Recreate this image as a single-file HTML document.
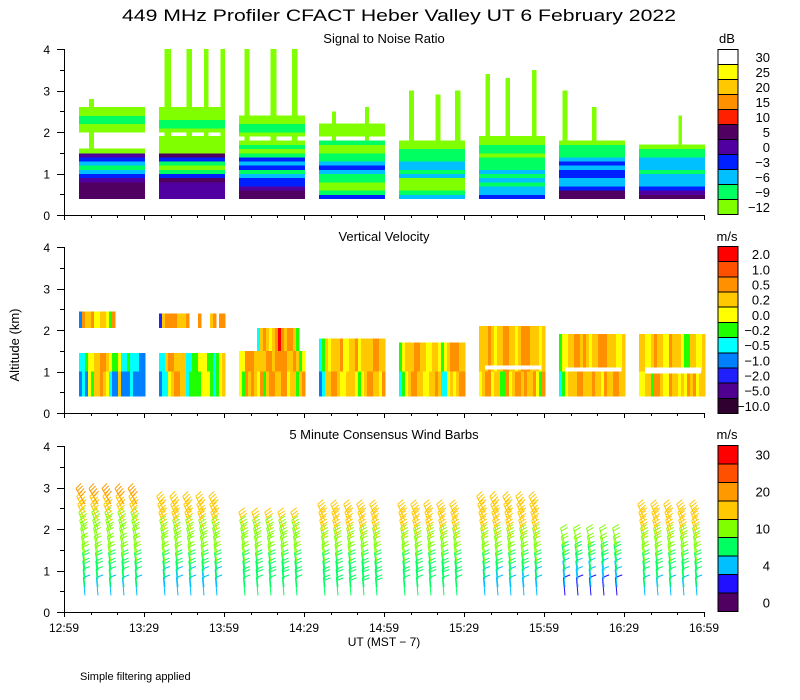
<!DOCTYPE html>
<html><head><meta charset="utf-8"><style>
html,body{margin:0;padding:0;background:#fff;}
svg{display:block;font-family:"Liberation Sans",sans-serif;}
</style></head><body>
<svg id="c" width="800" height="700" viewBox="0 0 800 700" shape-rendering="crispEdges">
<text x="122" y="21" font-size="17" textLength="554" lengthAdjust="spacingAndGlyphs">449 MHz Profiler CFACT Heber Valley UT  6 February 2022</text>
<text x="384" y="43" font-size="13" text-anchor="middle">Signal to Noise Ratio</text>
<text x="384" y="241" font-size="13" text-anchor="middle">Vertical Velocity</text>
<text x="384" y="439" font-size="13" text-anchor="middle">5 Minute Consensus Wind Barbs</text>
<text x="727" y="43" font-size="13" text-anchor="middle">dB</text>
<text x="727" y="241" font-size="13" text-anchor="middle">m/s</text>
<text x="727" y="439" font-size="13" text-anchor="middle">m/s</text>
<text transform="translate(19,345) rotate(-90)" font-size="13" text-anchor="middle">Altitude (km)</text>
<text x="384" y="646" font-size="12" text-anchor="middle">UT  (MST − 7)</text>
<text x="80" y="680" font-size="11">Simple filtering applied</text>
</svg>
<script>
// ---- data ----
const timeLabels = ["12:59","13:29","13:59","14:29","14:59","15:29","15:59","16:29","16:59"];
const altTicks = [0,1,2,3,4];
const snrLabels = ["30","25","20","15","10","5","0","−3","−6","−9","−12"];
const snrColors = ["#ffffff","#ffff00","#ffc800","#ff9000","#ff2000","#500060","#5000a0","#0020ff","#00c0ff","#00ff60","#80ff00"];
const velLabels = ["2.0","1.0","0.5","0.2","0.0","−0.2","−0.5","−1.0","−2.0","−5.0","−10.0"];
const velColors = ["#ff0000","#ff5000","#ff9000","#ffc800","#ffff00","#20ff00","#00ffff","#0080ff","#2020ff","#500090","#300030"];
const windLabels = ["30","","20","","10","","4","","0"];
const windColors = ["#ff0000","#ff5000","#ff9900","#ffc800","#80ff00","#00ff60","#00c0ff","#2010ff","#500060"];
const windBounds = [30,25,20,15,10,7,4,2,0];
// SNR profiles: 0.1 km bins from 0.4 km; a=-12 b=-9 c=-6 d=-3 e=0 f=5 r=10
const snrProfiles = [
 "ffffedcbcdea....aabbaa..............",
 "eeeefdbabdfaaaa.abbaaa..............",
 "ffeddcbdcdbaba.abbaa................",
 "dbaabbcdcbbaab.aaa..................",
 "cbaaacbccbbbaa......................",
 "dccbcbcbbbabbaa.....................",
 "ffdccddcdcbbba......................",
 "fedcccbcccbba......................."
];
// plumes: segment, x fraction, width fraction, top km
const plumeSeg = [0,1,1,1,1,2,2,2,3,3,4,4,4,5,5,5,6,6,7];
const plumeX   = [0.15,0.08,0.42,0.68,0.93,0.08,0.48,0.8,0.2,0.7,0.15,0.55,0.85,0.1,0.4,0.8,0.05,0.5,0.6];
const plumeW   = [0.08,0.1,0.08,0.07,0.07,0.08,0.09,0.09,0.06,0.06,0.08,0.08,0.08,0.07,0.07,0.07,0.08,0.07,0.05];
const plumeTop = [2.8,4.0,4.0,4.0,4.0,4.0,4.0,4.0,2.5,2.6,3.0,2.9,3.0,3.4,3.3,3.5,3.0,2.6,2.4];
// velocity: column class strings (0=2.0 ... 9=-5.0), lower (0.4-1.0) and upper (1.0-top)
const velLow = ["7674533234677377767777","7664322336555544456543","4523234253223322433532","7633223443334543223342","6543223344332366434322","4322433552432232332452","6543332233323342332233","4433522344233434232433"];
const velUp  = ["6654433223455466566677","6632233336655444556543","4422233332232222332354","6534333244332433332233","5433322334433454322233","3332343322334322233343","5443322323433222333443","3344323344233345533443"];
const velTop = [1.45,1.45,1.5,1.8,1.7,2.1,1.9,1.9];
const velGapLo = [0,0,0,0,0,1.05,1.0,0.95];
const velGapHi = [0,0,0,0,0,1.15,1.1,1.1];
const velBlockLo = [2.05,2.05,1.5,0,0,0,0,0];
const velBlockHi = [2.45,2.4,2.05,0,0,0,0,0];
const velBlock = ["723324433452","8322223332...2...32.22","......63234320232235",""," ","","",""];
// wind: speeds at levels 0.4..3.0 km step 0.2 (-1 = missing), direction tilt per level (deg)
const windLevels = [0.4,0.6,0.8,1.0,1.2,1.4,1.6,1.8,2.0,2.2,2.4,2.6,2.8,3.0];
const windSpeed = [
 [6,7,8,9,11,12,12,13,14,17,18,20,-1,-1],
 [5,6,8,9,11,12,13,14,17,18,18,-1,-1,-1],
 [7,8,8,9,11,12,13,14,17,-1,-1,-1,-1,-1],
 [8,8,9,9,11,12,13,16,17,18,-1,-1,-1,-1],
 [7,8,8,9,10,12,13,15,17,18,-1,-1,-1,-1],
 [5,6,8,9,11,12,14,16,17,18,19,-1,-1,-1],
 [3,4,6,8,9,11,12,-1,-1,-1,-1,-1,-1,-1],
 [6,7,8,9,11,12,14,16,17,18,-1,-1,-1,-1]
];
const windTilt = [5,6,7,8,10,12,14,17,20,24,27,30,30,30];

// ---- layout ----
const svg = document.getElementById('c');
const NS = 'http://www.w3.org/2000/svg';
const X0 = 64, X1 = 704;
const panels = [{top:49,bot:215},{top:247,bot:413},{top:446,bot:612}];
const xMin = t => X0 + t * 80 / 30;
const segX = k => X0 + 15 + 80 * k;
const SEGW = 66;
function yK(p, km){ return p.bot - km * (p.bot - p.top) / 4; }
function mk(tag, attrs, parent){ const e = document.createElementNS(NS, tag); for (const k in attrs) e.setAttribute(k, attrs[k]); (parent||svg).appendChild(e); return e; }

const snrMap = {a:10,b:9,c:8,d:7,e:6,f:5,r:4};
// SNR heatmap
const g1 = mk('g', {});


plumeSeg.forEach((s, i) => {
  const p = panels[0];
  const r = mk('rect', {x: segX(s) + plumeX[i]*SEGW, y: yK(p, plumeTop[i]), width: plumeW[i]*SEGW, height: yK(p,1.5) - yK(p,plumeTop[i]), fill: snrColors[10]}, g1);
  
  
});
snrProfiles.forEach((prof, s) => {
  const p = panels[0];
  for (let i = 0; i < prof.length; i++) {
    const ch = prof[i]; if (!(ch in snrMap)) continue;
    const lo = 0.4 + 0.1*i, hi = lo + 0.1;
    const r = mk('rect', {x: segX(s), y: yK(p, hi), width: SEGW, height: yK(p, lo) - yK(p, hi) + 0.5, fill: snrColors[snrMap[ch]]}, g1);
    
    
  }
});
// velocity heatmap
const g2 = mk('g', {});


function velCols(str, s, lo, hi){
  const p = panels[1]; const w = SEGW / 22;
  for (let j = 0; j < str.length; j++) {
    const c = str[j]; if (c < '0' || c > '9') continue;
    const r = mk('rect', {x: segX(s) + j*w, y: yK(p, hi), width: w + 0.3, height: yK(p, lo) - yK(p, hi), fill: velColors[+c]}, g2);
    
    
  }
}
for (let s = 0; s < 8; s++) {
  velCols(velLow[s], s, 0.4, 1.0);
  velCols(velUp[s], s, 1.0, velTop[s]);
  if (velBlockHi[s] > 0) velCols(velBlock[s], s, velBlockLo[s], velBlockHi[s]);
  if (velGapHi[s] > 0) {
    const p = panels[1];
    mk('rect', {x: segX(s)+6, y: yK(p, velGapHi[s]), width: SEGW-10, height: yK(p, velGapLo[s]) - yK(p, velGapHi[s]), fill: '#fff'}, g2);
  }
}
// wind barbs
const g3 = mk('g', {'shape-rendering':'auto'});


function windColor(v){ for (let i = 0; i < windBounds.length; i++) if (v >= windBounds[i]) return windColors[i]; return windColors[8]; }
for (let s = 0; s < 8; s++) {
  for (let j = 0; j < 5; j++) {
    const x = segX(s) + 6 + 13*j;
    windSpeed[s].forEach((v, li) => {
      if (v < 0) return;
      const p = panels[2];
      const y = yK(p, windLevels[li]);
      const a = windTilt[li] * Math.PI / 180;
      const L = 18, ux = -Math.sin(a), uy = -Math.cos(a);
      const tx = x + ux*L, ty = y + uy*L;
      let d = `M${x},${y}L${tx.toFixed(1)},${ty.toFixed(1)}`;
      const n = Math.round(v / 5);
      for (let f = 0; f < n; f++) {
        const bx = tx - ux*f*3, by = ty - uy*f*3;
        d += `M${bx.toFixed(1)},${by.toFixed(1)}l${(Math.cos(a)*7 + ux*2).toFixed(1)},${(Math.sin(a)*-7 + uy*2).toFixed(1)}`;
      }
      const b = mk('path', {d: d, stroke: windColor(v), 'stroke-width': 1, fill: 'none'}, g3);
      
      
    });
  }
}
// axes
panels.forEach((p, pi) => {
  const ax = mk('g', {stroke:'#000', 'stroke-width':1});
  
  
  mk('line', {x1:X0+0.5, y1:p.top, x2:X0+0.5, y2:p.bot+0.5}, ax);
  mk('line', {x1:X0, y1:p.bot+0.5, x2:X1, y2:p.bot+0.5}, ax);
  for (let k = 0; k <= 8; k++) {
    const yy = yK(p, k*0.5);
    mk('line', {x1: k%2 ? 60 : 57, y1: Math.round(yy)+0.5, x2: X0, y2: Math.round(yy)+0.5}, ax);
  }
  for (let m = 0; m <= 24; m++) {
    const xx = Math.round(xMin(m*10)) + 0.5;
    mk('line', {x1: xx, y1: p.bot, x2: xx, y2: p.bot + (m%3 ? 3 : 5)}, ax);
  }
  altTicks.forEach(v => {
    const t = mk('text', {x: 50, y: yK(p, v) + 5, 'font-size': 12, 'text-anchor':'end', stroke:'none'});
    t.textContent = v;
    
    
  });
});
timeLabels.forEach((lab, i) => {
  const t = mk('text', {x: X0 + 80*i, y: 632, 'font-size': 12, 'text-anchor':'middle'});
  t.textContent = lab;
  
  
});
// colorbars
function colorbar(colors, labels, top, bot, name){
  const g = mk('g', {});
  
  
  const h = (bot - top) / colors.length;
  colors.forEach((c, i) => {
    mk('rect', {x: 718, y: top + i*h, width: 20, height: h, fill: c, stroke: '#000', 'stroke-width': 1}, g);
    if (labels[i]) {
      const t = mk('text', {x: 770, y: top + i*h + h/2 + 5, 'font-size': 13, 'text-anchor':'end'}, g);
      t.textContent = labels[i];
      
      
    }
  });
}
colorbar(snrColors, snrLabels, 49.5, 214.5, 'snr-colorbar');
colorbar(velColors, velLabels, 246.5, 413.5, 'velocity-colorbar');
colorbar(windColors, windLabels, 445.5, 611.5, 'wind-colorbar');
</script>
</body></html>
